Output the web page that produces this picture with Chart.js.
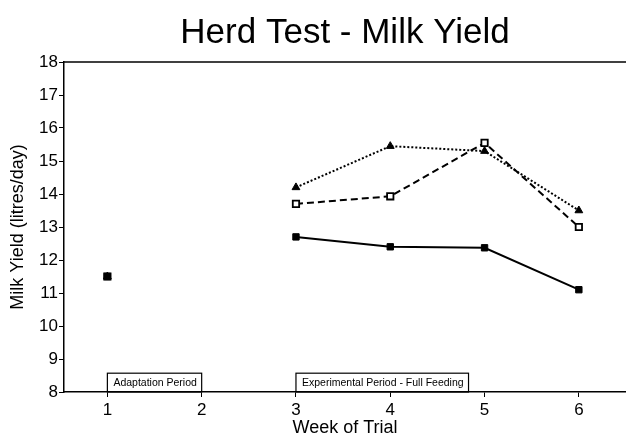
<!DOCTYPE html>
<html>
<head>
<meta charset="utf-8">
<script src="https://cdn.jsdelivr.net/npm/chart.js@4/dist/chart.umd.min.js"></script>
<style>
  body { margin: 0; background: #fff; }
  #wrap { width: 626px; height: 439px; }
</style>
</head>
<body>
<div id="wrap"><canvas id="milkChart"></canvas></div>
<script>
// weeks of the trial and mean yields per group (litres/day)
const weeks = [1, 2, 3, 4, 5, 6];
const solidSquares = [11.5, null, 12.7, 12.4, 12.37, 11.1];
const openSquares = [11.5, null, 13.7, 13.93, 15.55, 13.0];
const triangles = [11.5, null, 14.2, 15.45, 15.3, 13.5];
const yTicks = [8, 9, 10, 11, 12, 13, 14, 15, 16, 17, 18];

// period boxes along the bottom of the plot
const periodLabels = ['Adaptation Period', 'Experimental Period - Full Feeding'];
const periodStart = [1, 3];
const periodEnd = [2, 4.83];

const toPoints = (vals) => weeks.map((w, i) => ({ x: w, y: vals[i] }));

const frameAndPeriods = {
  id: 'frameAndPeriods',
  afterDatasetsDraw(chart) {
    const { ctx, chartArea, scales } = chart;
    ctx.save();
    // top frame line
    ctx.strokeStyle = '#000';
    ctx.lineWidth = 1.5;
    ctx.beginPath();
    ctx.moveTo(chartArea.left, chartArea.top);
    ctx.lineTo(chartArea.right, chartArea.top);
    ctx.stroke();

    ctx.font = '10.5px "Liberation Sans", Arial, sans-serif';
    ctx.fillStyle = '#000';
    ctx.textBaseline = 'middle';
    periodLabels.forEach((label, i) => {
      const x1 = scales.x.getPixelForValue(periodStart[i]);
      const x2 = scales.x.getPixelForValue(periodEnd[i]);
      const y1 = scales.y.getPixelForValue(8.57);
      const y2 = scales.y.getPixelForValue(8);
      ctx.lineWidth = 1.2;
      ctx.strokeRect(x1, y1, x2 - x1, y2 - y1);
      ctx.textAlign = 'left';
      ctx.fillText(label, x1 + 6, (y1 + y2) / 2 + 1);
    });
    ctx.restore();
  }
};

new Chart(document.getElementById('milkChart'), {
  type: 'line',
  data: {
    datasets: [
      {
        label: 'Group A',
        data: toPoints(solidSquares),
        borderColor: '#000',
        backgroundColor: '#000',
        borderWidth: 2,
        pointStyle: 'rect',
        pointRadius: 4.5,
        pointBorderWidth: 1,
      },
      {
        label: 'Group B',
        data: toPoints(openSquares),
        borderColor: '#000',
        backgroundColor: '#fff',
        borderWidth: 2,
        borderDash: [7, 4],
        pointStyle: 'rect',
        pointRadius: 4.5,
        pointBorderWidth: 1.8,
      },
      {
        label: 'Group C',
        data: toPoints(triangles),
        borderColor: '#000',
        backgroundColor: '#000',
        borderWidth: 2,
        borderDash: [2, 2],
        pointStyle: 'triangle',
        pointRadius: 4.5,
        pointBorderWidth: 1,
      },
    ],
  },
  options: {
    responsive: true,
    maintainAspectRatio: false,
    animation: false,
    layout: { autoPadding: false, padding: { left: 0, right: 0, top: 0, bottom: 0 } },
    plugins: {
      legend: { display: false },
      tooltip: { enabled: false },
      title: {
        display: true,
        text: 'Herd Test - Milk Yield',
        fullSize: false,
        color: '#000',
        font: { family: '"Liberation Sans", Arial, sans-serif', size: 35, weight: 'normal' },
        padding: { top: 12, bottom: 8 },
      },
    },
    scales: {
      x: {
        type: 'linear',
        min: 0.54,
        max: 6.5,
        afterBuildTicks: (scale) => { scale.ticks = weeks.map((v) => ({ value: v })); },
        afterFit: (scale) => { scale.height = 47; },
        grid: { display: true, drawOnChartArea: false, drawTicks: true, tickLength: 5, color: '#000' },
        border: { display: true, color: '#000', width: 1.5 },
        ticks: {
          color: '#000',
          padding: 3,
          font: { family: '"Liberation Sans", Arial, sans-serif', size: 17 },
        },
        title: {
          display: true,
          text: 'Week of Trial',
          color: '#000',
          padding: { top: 0, bottom: 0 },
          font: { family: '"Liberation Sans", Arial, sans-serif', size: 18 },
        },
      },
      y: {
        min: 8,
        max: 18,
        afterBuildTicks: (scale) => { scale.ticks = yTicks.map((v) => ({ value: v })); },
        afterFit: (scale) => { scale.width = 64; },
        grid: { display: true, drawOnChartArea: false, drawTicks: true, tickLength: 5, color: '#000' },
        border: { display: true, color: '#000', width: 1.5 },
        ticks: {
          color: '#000',
          padding: 1,
          font: { family: '"Liberation Sans", Arial, sans-serif', size: 17 },
        },
        title: {
          display: true,
          text: 'Milk Yield (litres/day)',
          color: '#000',
          padding: { top: 7, bottom: 0 },
          font: { family: '"Liberation Sans", Arial, sans-serif', size: 18 },
        },
      },
    },
  },
  plugins: [frameAndPeriods],
});
</script>
</body>
</html>
